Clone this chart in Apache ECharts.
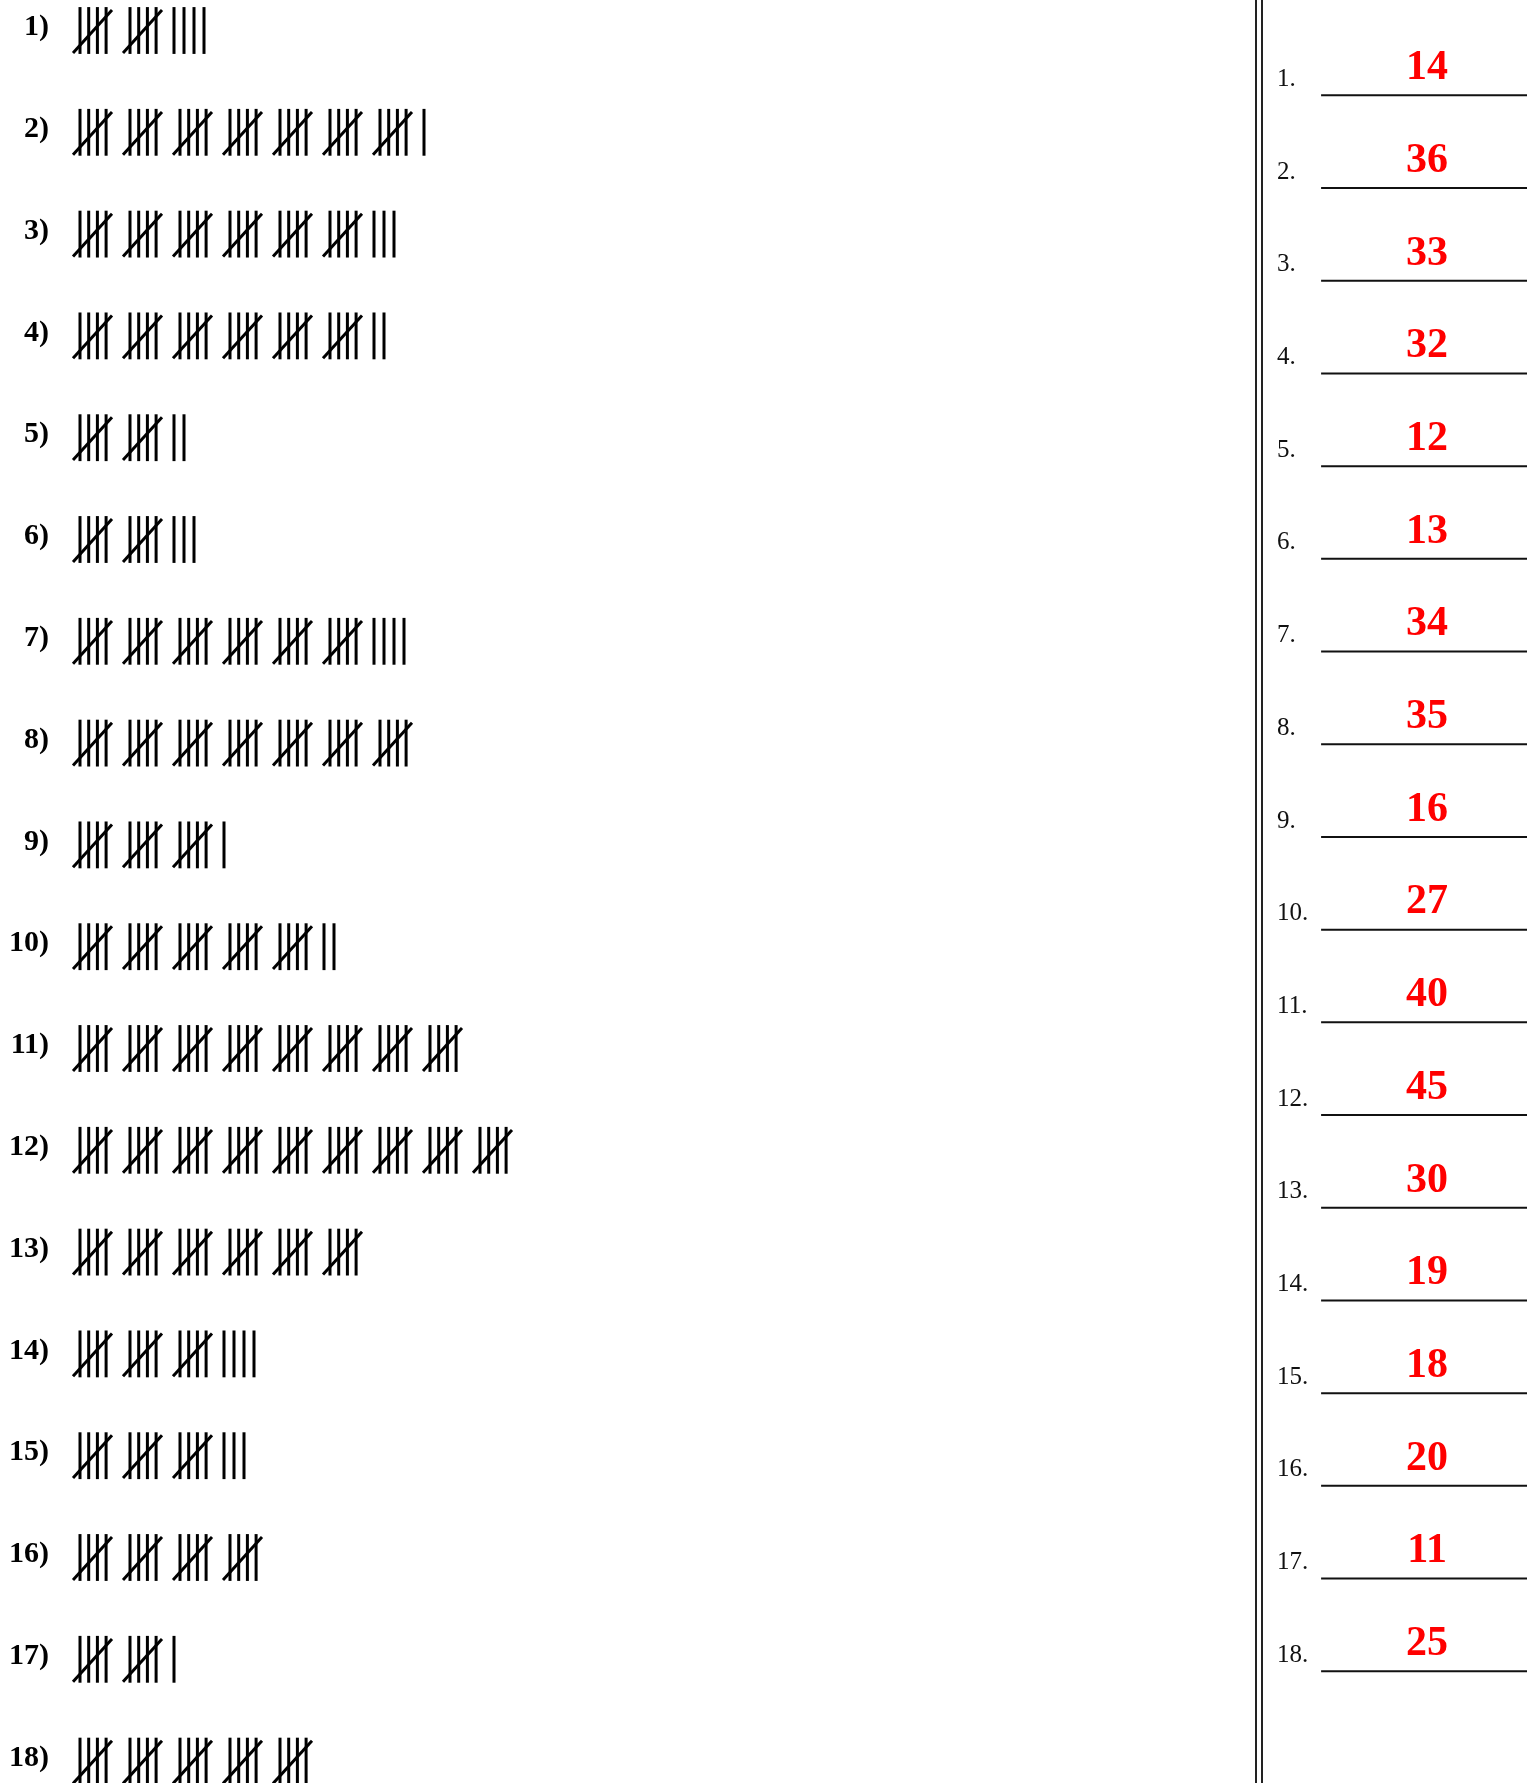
<!DOCTYPE html>
<html>
<head>
<meta charset="utf-8">
<script src="https://cdn.jsdelivr.net/npm/echarts@6/dist/echarts.min.js"></script>
<style>
  html, body { margin: 0; padding: 0; background: #fff; }
  #chart { width: 1527px; height: 1783px; }
</style>
</head>
<body>
<div id="chart"></div>
<script>
// tally counts per question, top to bottom
const rowLabels = ['1', '2', '3', '4', '5', '6', '7', '8', '9', '10', '11', '12', '13', '14', '15', '16', '17', '18']
const counts = [14, 36, 33, 32, 12, 13, 34, 35, 16, 27, 40, 45, 30, 19, 18, 20, 11, 25]

const serif = "'Liberation Serif', 'Times New Roman', serif"
const chart = echarts.init(document.getElementById('chart'), null, { renderer: 'canvas' })

// one x unit = one tally mark
function renderTally(params, api) {
  const count = api.value(0)
  const row = api.value(1)
  const h = api.size([0, 1])[1]
  const half = h * 0.23
  const groups = Math.floor(count / 5)
  const rest = count % 5
  const origin = api.coord([0, row])
  const children = [
    {
      type: 'text',
      style: {
        x: origin[0] - 31, y: origin[1] - 3, text: rowLabels[row] + ')',
        font: 'bold 30px ' + serif, fill: '#000', align: 'right', verticalAlign: 'middle'
      }
    }
  ]
  const seg = (xa, dya, xb, dyb) => {
    const a = api.coord([xa, row])
    const b = api.coord([xb, row])
    children.push({
      type: 'line',
      shape: { x1: a[0], y1: a[1] + dya, x2: b[0], y2: b[1] + dyb },
      style: { stroke: '#000', lineWidth: 3 }
    })
  }
  for (let g = 0; g < groups; g++) {
    for (let i = 0; i < 4; i++) {
      const x = g * 5 + i * 0.87
      seg(x, -half, x, half)
    }
    // diagonal cross stroke
    seg(g * 5 - 0.7, half - 1, g * 5 + 3.2, -half + 3)
  }
  for (let j = 0; j < rest; j++) {
    const x = groups * 5 - 0.6 + j
    seg(x, -half, x, half)
  }
  return { type: 'group', children }
}

function renderAnswer(params, api) {
  const row = api.value(1)
  const val = api.value(2)
  const c = api.coord([0, row])
  const numX = api.coord([5.7, row])[0]
  const lineX1 = api.coord([22.3, row])[0]
  const lineX2 = api.coord([100, row])[0]
  const valX = api.coord([62.3, row])[0]
  const y = c[1]
  return {
    type: 'group',
    children: [
      {
        type: 'line',
        shape: { x1: lineX1, y1: y + 30, x2: lineX2, y2: y + 30 },
        style: { stroke: '#111', lineWidth: 2 }
      },
      {
        type: 'text',
        style: {
          x: numX, y: y + 14, text: rowLabels[row] + '.',
          font: '25px ' + serif, fill: '#111', align: 'left', verticalAlign: 'middle'
        }
      },
      {
        type: 'text',
        style: {
          x: valX, y: y + 3, text: String(val),
          font: 'bold 42px ' + serif, fill: '#ff0000', align: 'center', verticalAlign: 'middle'
        }
      }
    ]
  }
}

const option = {
  backgroundColor: '#fff',
  animation: false,
  grid: [
    { left: 80, top: -20.4, width: 1000, height: 1832.4, outerBoundsMode: 'none', containLabel: false },
    { left: 1262, right: 0, top: 19, height: 1668.6, outerBoundsMode: 'none', containLabel: false }
  ],
  xAxis: [
    { gridIndex: 0, type: 'value', min: 0, max: 100, show: false },
    { gridIndex: 1, type: 'value', min: 0, max: 100, show: false }
  ],
  yAxis: [
    { gridIndex: 0, type: 'category', data: rowLabels, inverse: true, show: false },
    { gridIndex: 1, type: 'category', data: rowLabels, inverse: true, show: false }
  ],
  graphic: [
    { type: 'line', shape: { x1: 1256, y1: 0, x2: 1256, y2: 1783 }, style: { stroke: '#222', lineWidth: 2 } },
    { type: 'line', shape: { x1: 1262, y1: 0, x2: 1262, y2: 1783 }, style: { stroke: '#222', lineWidth: 2 } }
  ],
  series: [
    {
      type: 'custom',
      xAxisIndex: 0,
      yAxisIndex: 0,
      renderItem: renderTally,
      encode: { x: 0, y: 1 },
      data: counts.map((c, i) => [c, i])
    },
    {
      type: 'custom',
      xAxisIndex: 1,
      yAxisIndex: 1,
      renderItem: renderAnswer,
      encode: { x: 0, y: 1 },
      data: counts.map((c, i) => [0, i, c])
    }
  ]
}

chart.setOption(option)
</script>
</body>
</html>
